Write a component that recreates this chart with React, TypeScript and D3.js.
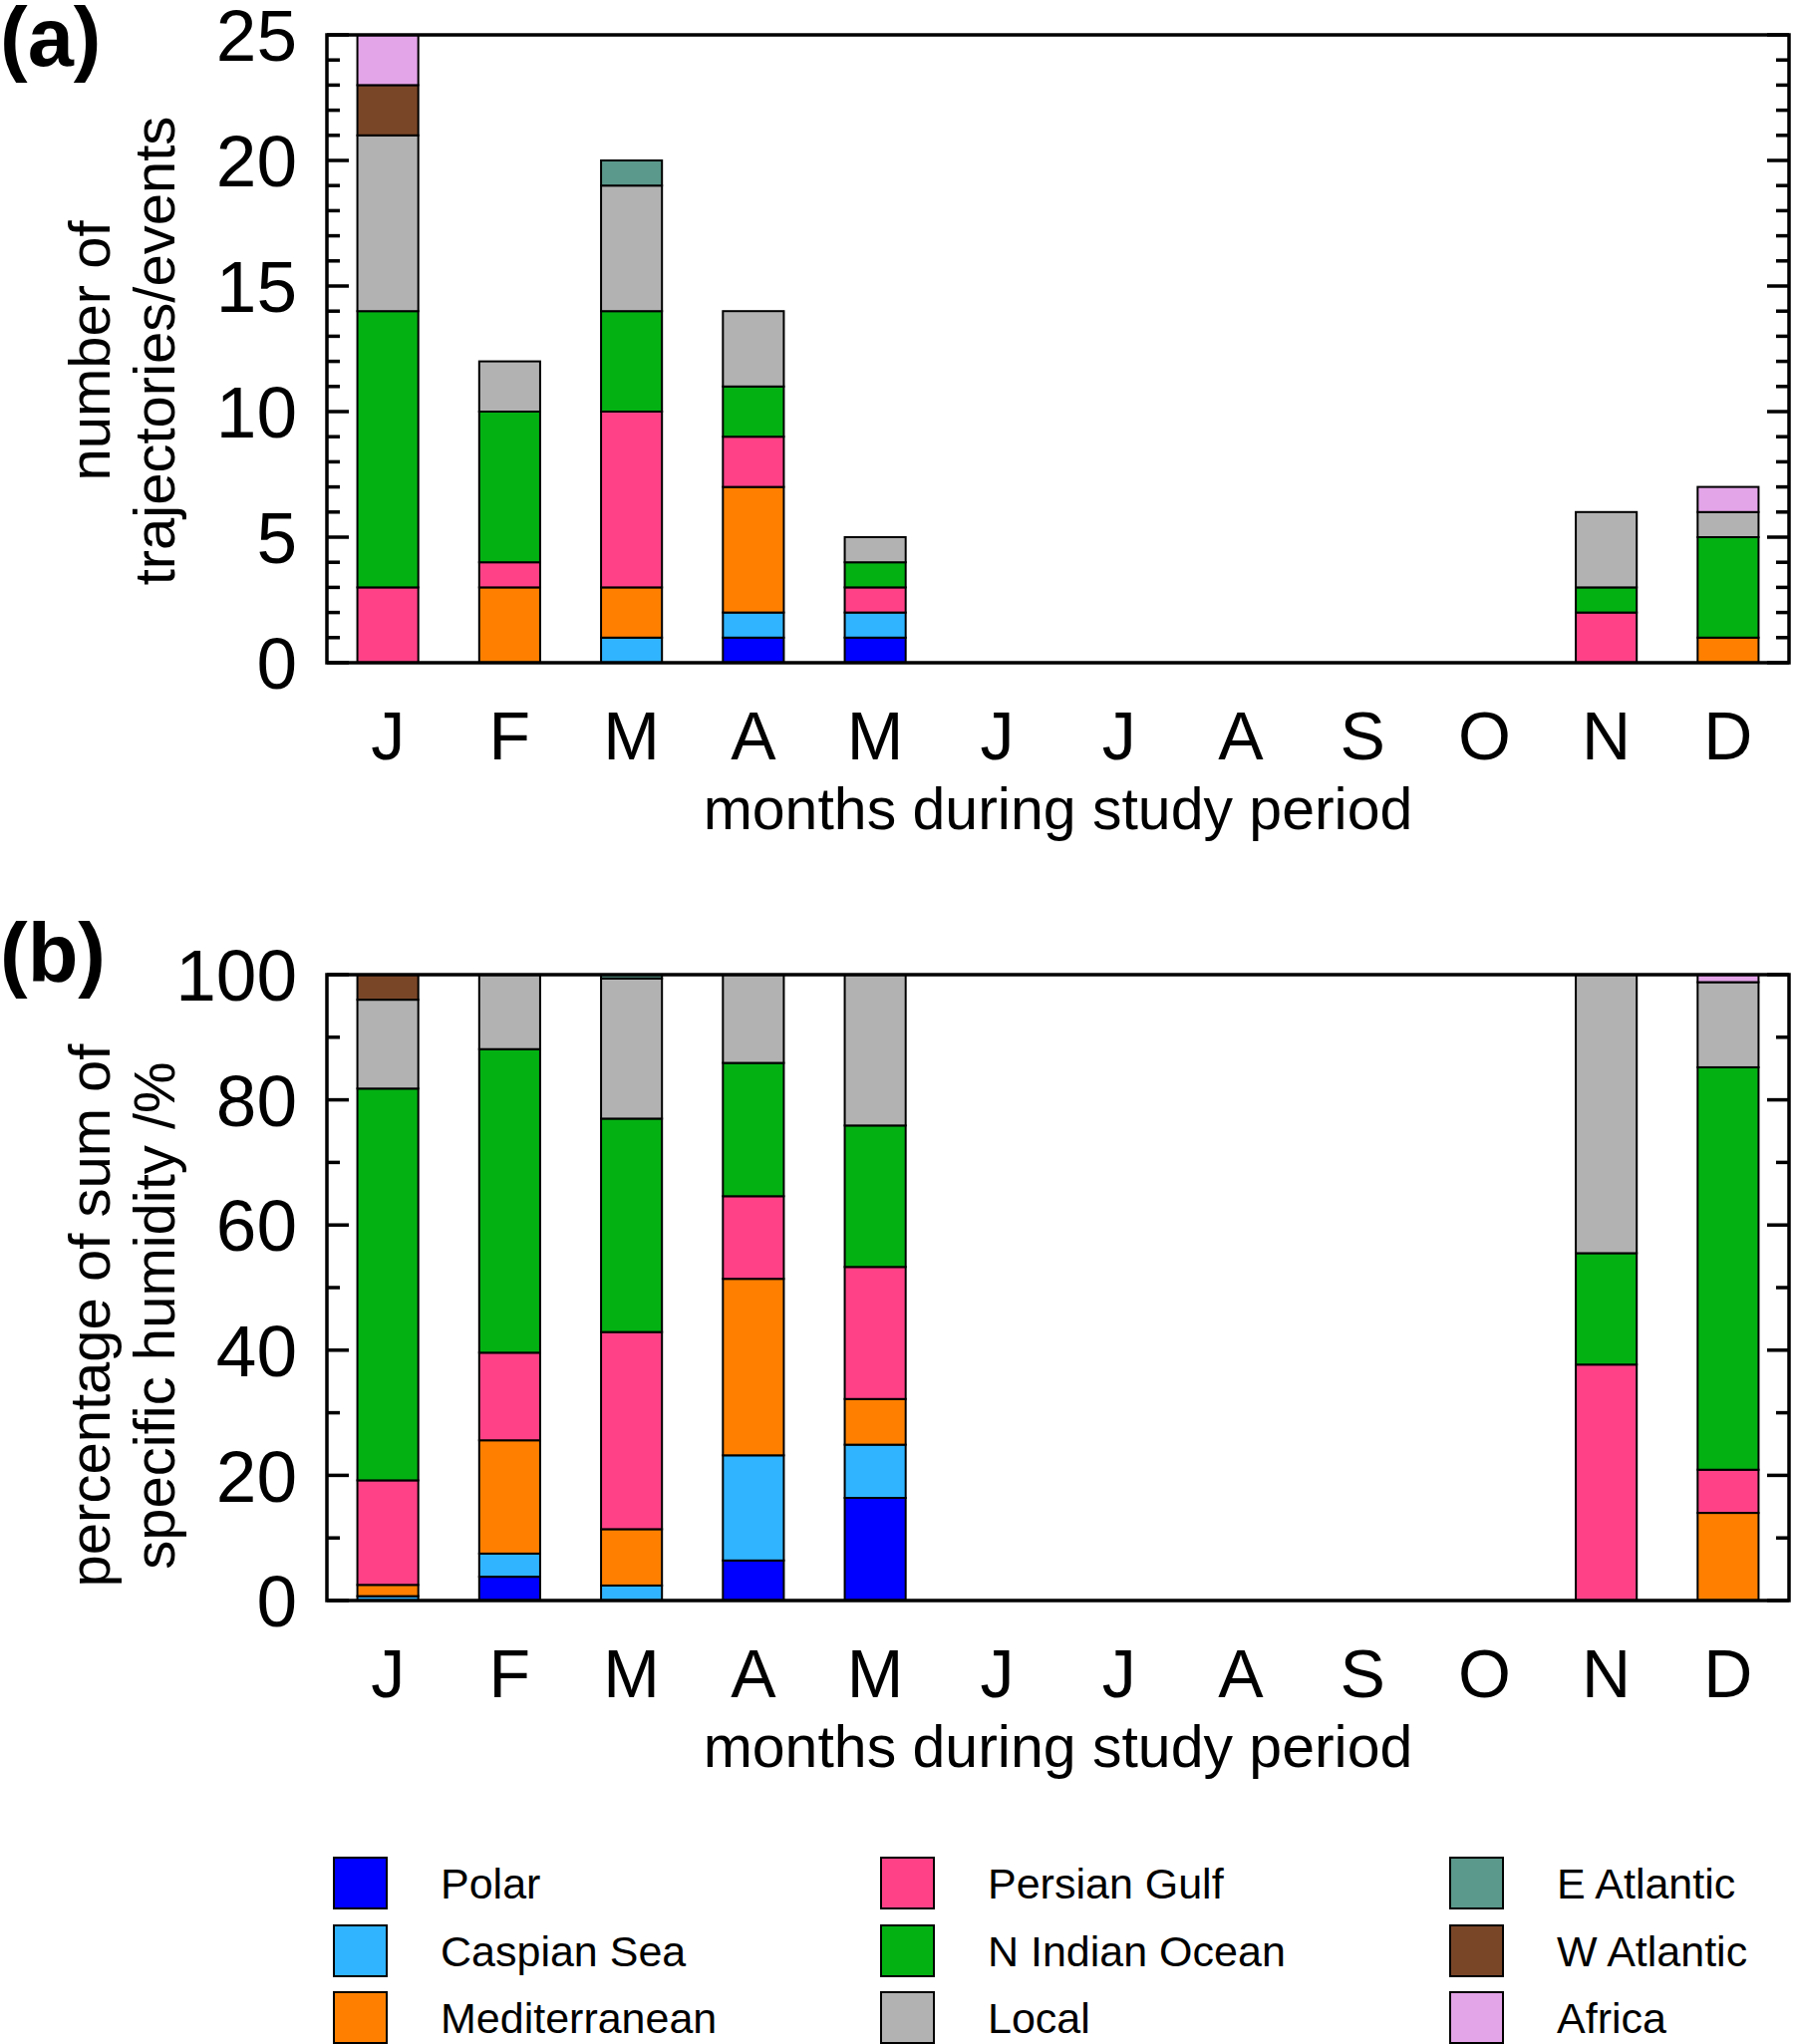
import React from "react";
import * as d3 from "d3";

const months = ["J", "F", "M", "A", "M", "J", "J", "A", "S", "O", "N", "D"];
const sources = [
  "Polar", "Caspian Sea", "Mediterranean",
  "Persian Gulf", "N Indian Ocean", "Local",
  "E Atlantic", "W Atlantic", "Africa",
];
const sourceColors = [
  "#0000ff", "#30b4ff", "#ff8000",
  "#ff4287", "#03b113", "#b2b2b2",
  "#5a998b", "#7a4628", "#e4a4e8",
];

// panel (a): number of trajectories/events, one row per source, J..D
const eventCounts = [
  [0, 0, 0, 1, 1, 0, 0, 0, 0, 0, 0, 0],
  [0, 0, 1, 1, 1, 0, 0, 0, 0, 0, 0, 0],
  [0, 3, 2, 5, 0, 0, 0, 0, 0, 0, 0, 1],
  [3, 1, 7, 2, 1, 0, 0, 0, 0, 0, 2, 0],
  [11, 6, 4, 2, 1, 0, 0, 0, 0, 0, 1, 4],
  [7, 2, 5, 3, 1, 0, 0, 0, 0, 0, 3, 1],
  [0, 0, 1, 0, 0, 0, 0, 0, 0, 0, 0, 0],
  [2, 0, 0, 0, 0, 0, 0, 0, 0, 0, 0, 0],
  [2, 0, 0, 0, 0, 0, 0, 0, 0, 0, 0, 1],
];

// panel (b): percentage of sum of specific humidity
const humidityPct = [
  [0, 3.8, 0, 6.4, 16.4, 0, 0, 0, 0, 0, 0, 0],
  [0.7, 3.7, 2.4, 16.8, 8.5, 0, 0, 0, 0, 0, 0, 0],
  [1.8, 18.1, 9.0, 28.2, 7.3, 0, 0, 0, 0, 0, 0, 14.0],
  [16.7, 14.0, 31.5, 13.2, 21.1, 0, 0, 0, 0, 0, 37.7, 6.9],
  [62.6, 48.5, 34.1, 21.3, 22.6, 0, 0, 0, 0, 0, 17.8, 64.3],
  [14.2, 11.9, 22.4, 14.1, 24.1, 0, 0, 0, 0, 0, 44.5, 13.6],
  [0, 0, 0.6, 0, 0, 0, 0, 0, 0, 0, 0, 0],
  [4.0, 0, 0, 0, 0, 0, 0, 0, 0, 0, 0, 0],
  [0, 0, 0, 0, 0, 0, 0, 0, 0, 0, 0, 1.2],
];

const countTicks = [0, 5, 10, 15, 20, 25];
const pctTicks = [0, 20, 40, 60, 80, 100];

const W = 1800;
const H = 2051;
const FONT = "'Liberation Sans', Arial, Helvetica, sans-serif";
const plotLeft = 328;
const plotRight = 1795;

const x = d3
  .scaleBand<number>()
  .domain(d3.range(12))
  .range([plotLeft, plotRight])
  .paddingInner(0.5)
  .paddingOuter(0.25);

function Panel({
  values, top, bottom, max, ticks, minorStep, label, labelY, titleLines, titleCenter,
}: {
  values: number[][]; top: number; bottom: number; max: number; ticks: number[];
  minorStep: number; label: string; labelY: number; titleLines: string[]; titleCenter: number;
}) {
  const y = d3.scaleLinear().domain([0, max]).range([bottom, top]);

  const rows = months.map((_, i) => {
    const r: Record<string, number> = { idx: i };
    sources.forEach((s, k) => (r[s] = values[k][i]));
    return r;
  });
  const series = d3.stack<Record<string, number>>().keys(sources)(rows);

  const minor = d3.range(0, max + 0.001, minorStep).filter(v => !ticks.includes(v));
  const majorLen = 22;
  const minorLen = 13;

  return (
    <g>
      {/* stacked bars */}
      {series.map((s, k) => (
        <g key={s.key} fill={sourceColors[k]} stroke="#000" strokeWidth={2}>
          {s.filter(d => d[1] - d[0] > 0).map(d => (
            <rect
              key={d.data.idx}
              x={x(d.data.idx)!}
              width={x.bandwidth()}
              y={y(d[1])}
              height={y(d[0]) - y(d[1])}
            />
          ))}
        </g>
      ))}

      {/* ticks inside on both sides */}
      <g stroke="#000" strokeWidth={3.5}>
        {ticks.map(t => (
          <g key={"M" + t}>
            <line x1={plotLeft} x2={plotLeft + majorLen} y1={y(t)} y2={y(t)} />
            <line x1={plotRight} x2={plotRight - majorLen} y1={y(t)} y2={y(t)} />
          </g>
        ))}
        {minor.map(t => (
          <g key={"m" + t}>
            <line x1={plotLeft} x2={plotLeft + minorLen} y1={y(t)} y2={y(t)} />
            <line x1={plotRight} x2={plotRight - minorLen} y1={y(t)} y2={y(t)} />
          </g>
        ))}
      </g>

      {/* frame */}
      <rect
        x={plotLeft} y={top} width={plotRight - plotLeft} height={bottom - top}
        fill="none" stroke="#000" strokeWidth={3.5}
      />

      {/* y tick labels */}
      {ticks.map(t => (
        <text key={t} x={298} y={y(t)} dy="0.36em" textAnchor="end" fontSize={73}>
          {t}
        </text>
      ))}

      {/* month labels */}
      {months.map((m, i) => (
        <text key={i} x={x(i)! + x.bandwidth() / 2} y={bottom + 97} textAnchor="middle" fontSize={68}>
          {m}
        </text>
      ))}

      <text x={(plotLeft + plotRight) / 2} y={bottom + 167} textAnchor="middle" fontSize={59}>
        months during study period
      </text>

      {/* y title */}
      {titleLines.map((line, i) => (
        <text
          key={i}
          transform={`translate(${110 + i * 65},${titleCenter}) rotate(-90)`}
          textAnchor="middle"
          fontSize={58}
        >
          {line}
        </text>
      ))}

      <text x={0} y={labelY} fontSize={83} fontWeight="bold">
        {label}
      </text>
    </g>
  );
}

function Legend() {
  const colX = [335, 884, 1455];
  const rowY = [1864, 1932, 1999];
  return (
    <g>
      {sources.map((s, k) => {
        const c = Math.floor(k / 3);
        const r = k % 3;
        return (
          <g key={s}>
            <rect x={colX[c]} y={rowY[r]} width={53} height={51} fill={sourceColors[k]} stroke="#000" strokeWidth={2} />
            <text x={colX[c] + 107} y={rowY[r] + 26} dy="0.36em" fontSize={43}>
              {s}
            </text>
          </g>
        );
      })}
    </g>
  );
}

export default function App() {
  return (
    <svg
      width={W}
      height={H}
      viewBox={`0 0 ${W} ${H}`}
      style={{ position: "absolute", left: 0, top: 0, background: "#fff" }}
      fontFamily={FONT}
    >
      <rect width={W} height={H} fill="#fff" />
      <Panel
        values={eventCounts}
        top={35}
        bottom={665}
        max={25}
        ticks={countTicks}
        minorStep={1}
        label="(a)"
        labelY={66}
        titleLines={["number of", "trajectories/events"]}
        titleCenter={352}
      />
      <Panel
        values={humidityPct}
        top={978}
        bottom={1606}
        max={100}
        ticks={pctTicks}
        minorStep={10}
        label="(b)"
        labelY={985}
        titleLines={["percentage of sum of", "specific humidity /%"]}
        titleCenter={1320}
      />
      <Legend />
    </svg>
  );
}
